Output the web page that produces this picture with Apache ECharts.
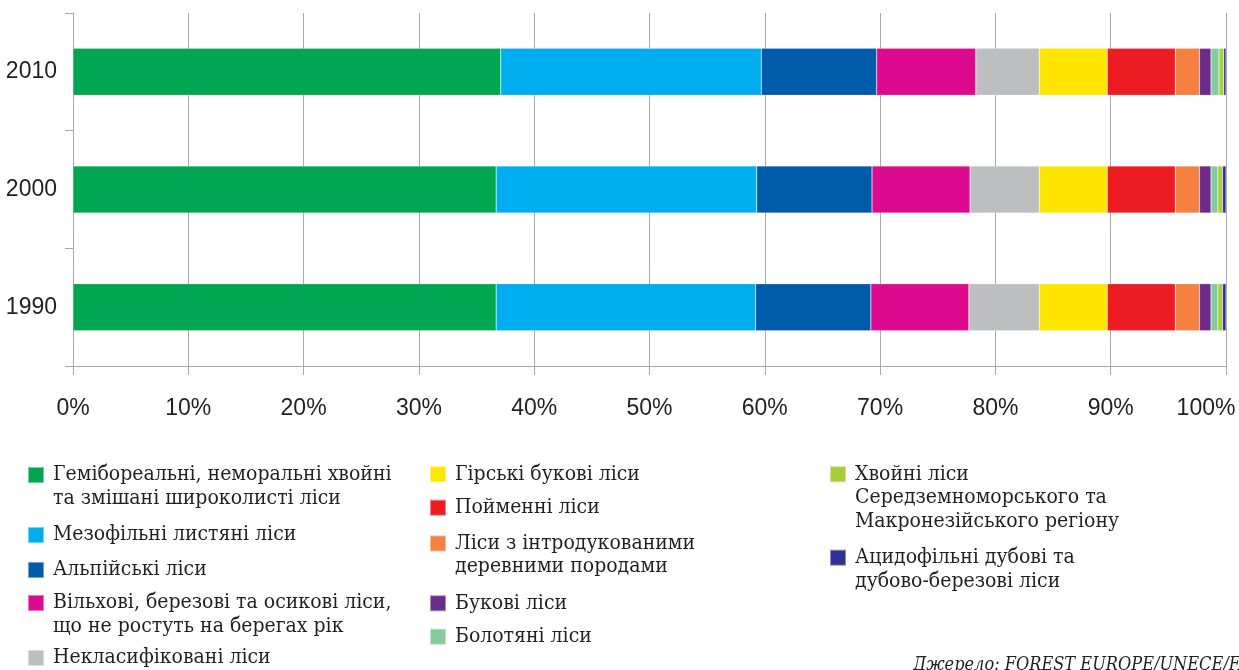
<!DOCTYPE html>
<html>
<head>
<meta charset="utf-8">
<script src="https://cdn.jsdelivr.net/npm/echarts@6/dist/echarts.min.js"></script>
<style>
  html, body { margin: 0; padding: 0; background: #fff; }
  #forestChart { width: 1239px; height: 670px; }
</style>
</head>
<body>
<div id="forestChart"></div>
<script>
// роки (знизу вгору)
var years = ['1990', '2000', '2010'];
var xTicks = [0, 10, 20, 30, 40, 50, 60, 70, 80, 90, 100];

// назви типів лісів (з переносами як у легенді)
var forestTypes = [
  'Гемібореальні, неморальні хвойні\nта змішані широколисті ліси',
  'Мезофільні листяні ліси',
  'Альпійські ліси',
  'Вільхові, березові та осикові ліси,\nщо не ростуть на берегах рік',
  'Некласифіковані ліси',
  'Гірські букові ліси',
  'Пойменні ліси',
  'Ліси з інтродукованими\nдеревними породами',
  'Букові ліси',
  'Болотяні ліси',
  'Хвойні ліси\nСередземноморського та\nМакронезійського регіону',
  'Ацидофільні дубові та\nдубово-березові ліси'
];

// частки, % (1990, 2000, 2010)
var hemiboreal   = [36.7, 36.7, 37.1];
var mesophytic   = [22.5, 22.6, 22.6];
var alpine       = [10.0, 10.0, 10.0];
var alderBirch   = [8.5, 8.5, 8.6];
var unclassified = [6.1, 6.0, 5.5];
var mountainBeech = [5.9, 5.9, 5.9];
var floodplain   = [5.9, 5.9, 5.9];
var introduced   = [2.1, 2.1, 2.1];
var beech        = [1.0, 1.0, 1.0];
var swamp        = [0.6, 0.6, 0.7];
var mediterranean = [0.4, 0.4, 0.4];
var acidophilous = [0.3, 0.3, 0.2];

var seriesValues = [hemiboreal, mesophytic, alpine, alderBirch, unclassified,
  mountainBeech, floodplain, introduced, beech, swamp, mediterranean, acidophilous];

var colors = ['#00A651', '#00AEEF', '#005BAA', '#DC0A8E', '#BCBEC0', '#FFE600',
  '#ED1C24', '#F58140', '#6A2B8A', '#84CC9C', '#A6CE39', '#2E3192'];

var axisFont = "'Liberation Sans Narrow', 'Liberation Sans', Arial, sans-serif";
var legendFont = "'DejaVu Serif Condensed', 'DejaVu Serif', serif";
var lineH = 23.5;

// розташування пунктів легенди: [left, центр значка, кількість рядків]
var legendPos = [
  [27, 475, 2], [27, 535, 1], [27, 570, 1], [27, 603, 2], [27, 658, 1],
  [429, 474.3, 1], [429, 507.7, 1], [429, 543.5, 2], [429, 603.3, 1], [429, 636.7, 1],
  [829, 474.3, 3], [829, 557.7, 2]
];

// порожні рядки зверху, щоб перший рядок тексту стояв навпроти значка
function padLines(n) {
  var s = '';
  for (var k = 1; k < n; k++) s += '\n';
  return s;
}

var legends = forestTypes.map(function (name, i) {
  var p = legendPos[i];
  var n = p[2];
  return {
    data: [name],
    left: p[0],
    top: p[1] - (2 * n - 1) * lineH / 2,
    padding: 0,
    itemWidth: 16,
    itemHeight: 16,
    icon: 'rect',
    selectedMode: false,
    formatter: function (nm) {
      return padLines(n) + nm;
    },
    textStyle: {
      fontFamily: legendFont,
      fontSize: 21,
      color: '#231f20',
      lineHeight: lineH,
      padding: [0, 0, 0, 4]
    }
  };
});

var series = forestTypes.map(function (name, i) {
  return {
    name: name,
    type: 'bar',
    stack: 'total',
    barWidth: '40%',
    data: seriesValues[i],
    itemStyle: {
      color: colors[i],
      borderColor: 'rgba(255,255,255,0.45)',
      borderWidth: 0.5
    }
  };
});

var myChart = echarts.init(document.getElementById('forestChart'));
myChart.setOption({
  animation: false,
  color: colors,
  title: {
    text: 'Джерело: FOREST EUROPE/UNECE/FAO',
    left: 913,
    top: 656,
    padding: 0,
    textStyle: {
      fontFamily: legendFont,
      fontStyle: 'italic',
      fontWeight: 'normal',
      fontSize: 18,
      color: '#231f20'
    }
  },
  legend: legends,
  grid: {
    left: 73,
    right: 13,
    top: 13,
    bottom: 304,
    containLabel: false,
    outerBoundsMode: 'none'
  },
  xAxis: {
    type: 'value',
    min: xTicks[0],
    max: xTicks[xTicks.length - 1],
    interval: 10,
    axisLine: { show: true, lineStyle: { color: '#a7a9ac', width: 1 } },
    axisTick: { show: true, length: 9, lineStyle: { color: '#a7a9ac' } },
    splitLine: { show: true, lineStyle: { color: '#a7a9ac', width: 1 } },
    axisLabel: {
      formatter: function (v) {
        // останню мітку трохи зсунуто ліворуч, як в оригіналі
        return v === 100 ? '{last|' + v + '%}' : v + '%';
      },
      fontFamily: axisFont,
      fontSize: 23,
      color: '#231f20',
      margin: 31,
      rich: {
        last: {
          fontFamily: axisFont,
          fontSize: 23,
          color: '#231f20',
          padding: [0, 40, 0, 0]
        }
      }
    }
  },
  yAxis: {
    type: 'category',
    data: years,
    axisLine: { show: true, lineStyle: { color: '#a7a9ac', width: 1 } },
    axisTick: { show: true, length: 8, lineStyle: { color: '#a7a9ac' } },
    splitLine: { show: false },
    axisLabel: {
      fontFamily: axisFont,
      fontSize: 23,
      color: '#231f20',
      margin: 16
    }
  },
  series: series
});
</script>
</body>
</html>
